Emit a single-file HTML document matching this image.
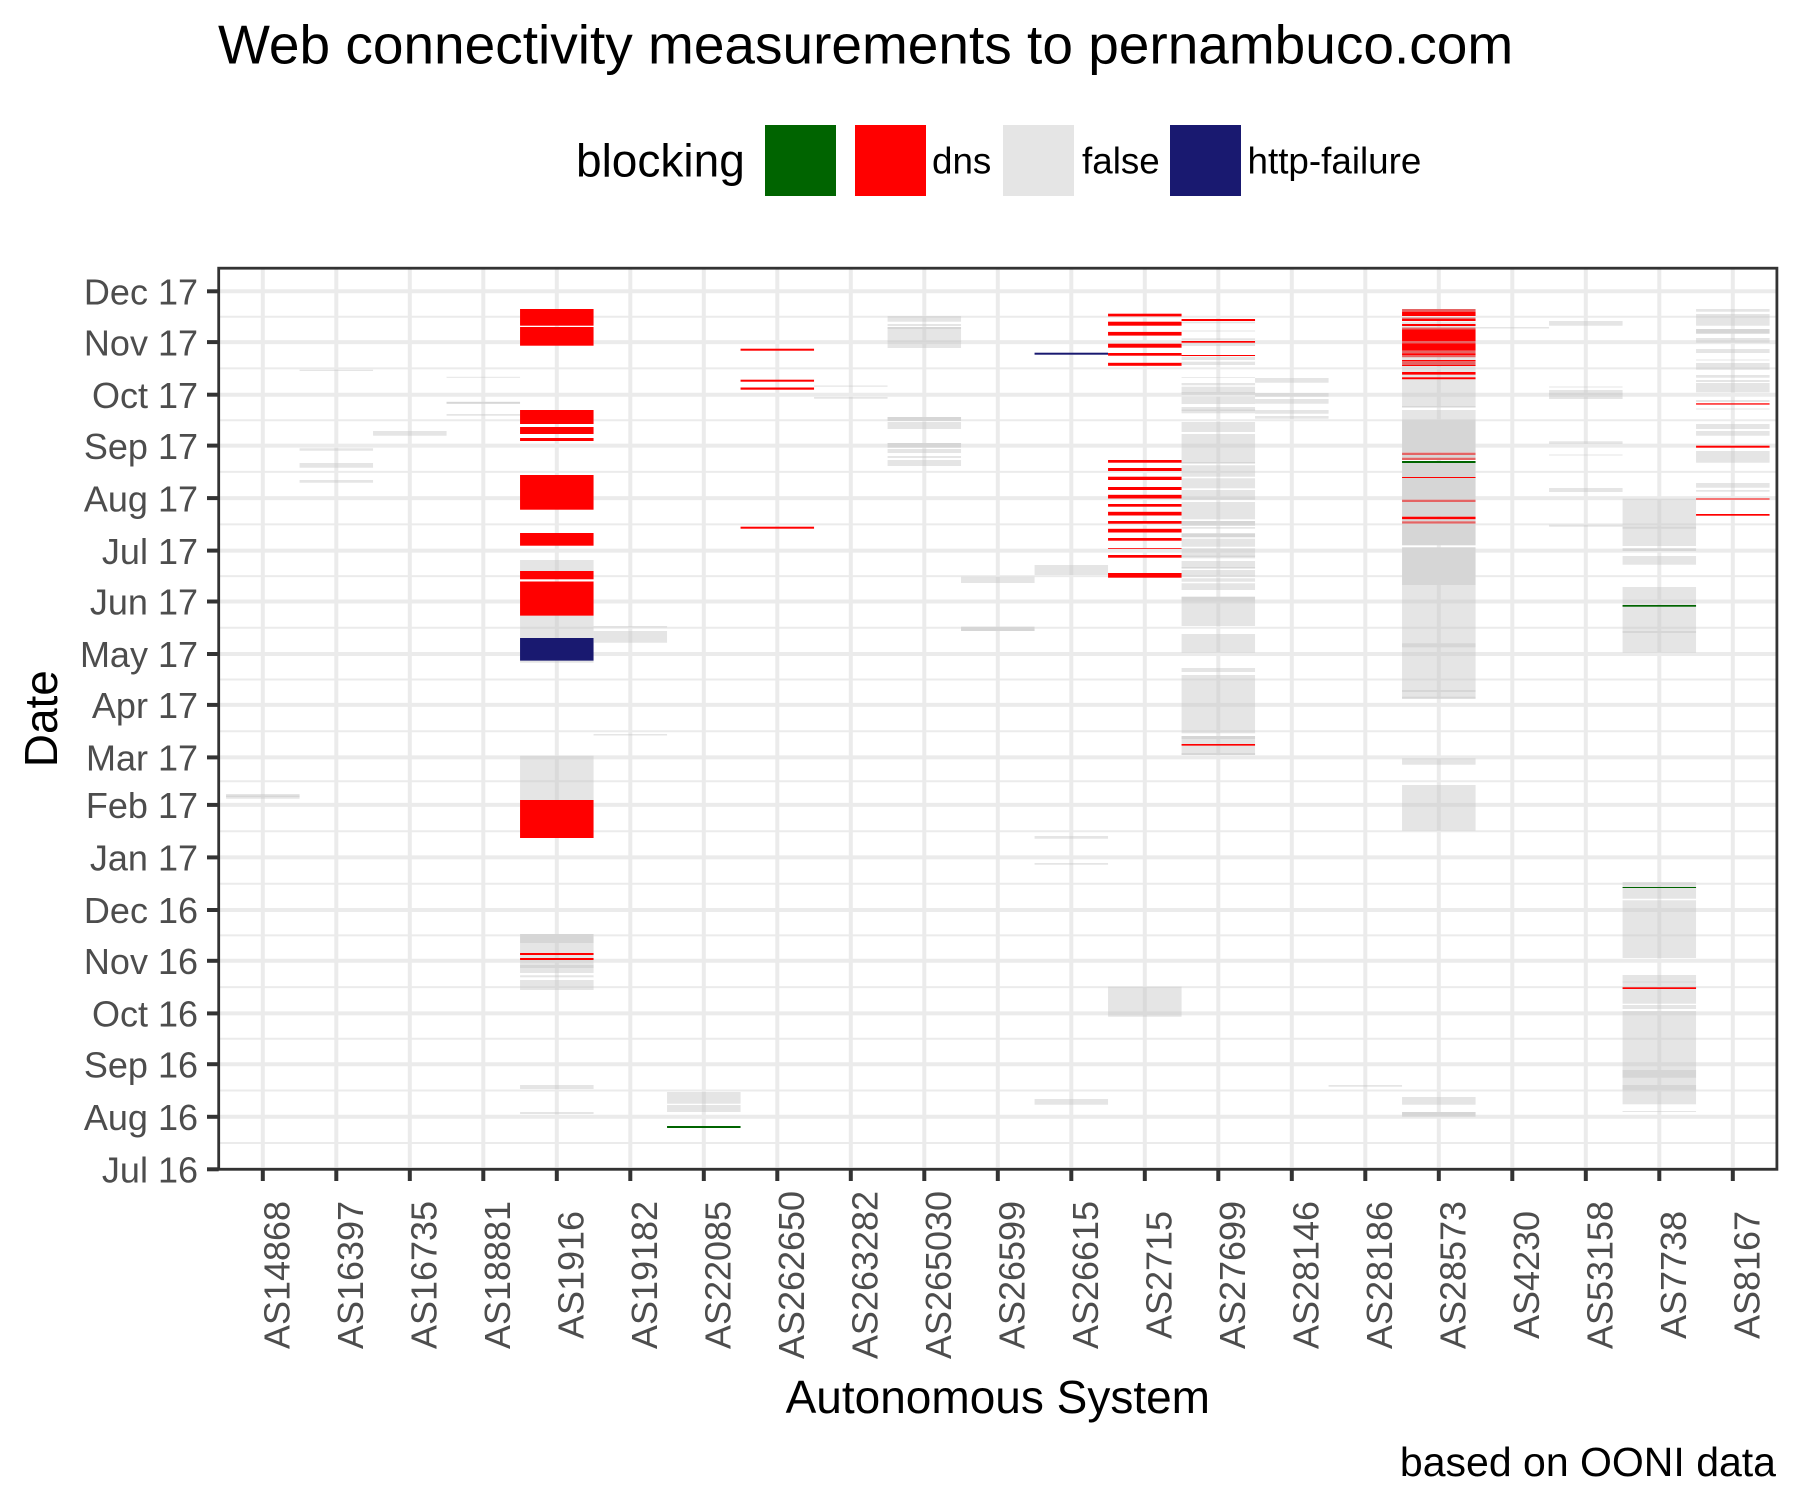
<!DOCTYPE html>
<html>
<head>
<meta charset="utf-8">
<style>
html,body{margin:0;padding:0;background:#fff;}
body{width:1800px;height:1500px;overflow:hidden;}
svg{display:block;font-family:"Liberation Sans",Arial,sans-serif;}
.g{fill:#c5c5c5;fill-opacity:0.45;}
.d{fill:#d6d6d6;}
.r{fill:#ff0000;}
.p{fill:#e46464;}
.n{fill:#191970;}
.k{fill:#006400;}
.gl{stroke:#ebebeb;stroke-width:4;}
.gm{stroke:#ebebeb;stroke-width:2;}
.tk{stroke:#333333;stroke-width:4;}
.yl{font-size:36px;fill:#4d4d4d;text-anchor:end;}
.xl{font-size:36px;fill:#4d4d4d;text-anchor:middle;}
</style>
</head>
<body>
<svg width="1800" height="1500" viewBox="0 0 1800 1500" xmlns="http://www.w3.org/2000/svg">
<rect x="0" y="0" width="1800" height="1500" fill="#fff"/>

<!-- Title -->
<text x="218" y="63.3" font-size="55" fill="#000">Web connectivity measurements to pernambuco.com</text>

<!-- Legend -->
<text x="576" y="176.5" font-size="46" fill="#000">blocking</text>
<rect x="765" y="125" width="71" height="71" fill="#006400"/>
<rect x="855" y="125" width="71" height="71" fill="#ff0000"/>
<rect x="1003" y="125" width="71" height="71" fill="#e5e5e5"/>
<rect x="1170" y="125" width="71" height="71" fill="#191970"/>
<text x="932" y="173.5" font-size="36.8" fill="#000">dns</text>
<text x="1082" y="173.5" font-size="36.8" fill="#000">false</text>
<text x="1247.5" y="173.5" font-size="36.8" fill="#000">http-failure</text>

<defs>
<clipPath id="pc"><rect x="218.7" y="268.2" width="1558.2" height="901.1"/></clipPath>
</defs>

<g clip-path="url(#pc)">
<!-- minor horizontal grid -->
<g class="gm">
<line x1="218" x2="1778" y1="1143.0" y2="1143.0"/>
<line x1="218" x2="1778" y1="1090.5" y2="1090.5"/>
<line x1="218" x2="1778" y1="1038.8" y2="1038.8"/>
<line x1="218" x2="1778" y1="987.1" y2="987.1"/>
<line x1="218" x2="1778" y1="935.4" y2="935.4"/>
<line x1="218" x2="1778" y1="883.7" y2="883.7"/>
<line x1="218" x2="1778" y1="831.2" y2="831.2"/>
<line x1="218" x2="1778" y1="781.2" y2="781.2"/>
<line x1="218" x2="1778" y1="731.2" y2="731.2"/>
<line x1="218" x2="1778" y1="679.5" y2="679.5"/>
<line x1="218" x2="1778" y1="627.8" y2="627.8"/>
<line x1="218" x2="1778" y1="576.1" y2="576.1"/>
<line x1="218" x2="1778" y1="524.4" y2="524.4"/>
<line x1="218" x2="1778" y1="471.9" y2="471.9"/>
<line x1="218" x2="1778" y1="420.2" y2="420.2"/>
<line x1="218" x2="1778" y1="368.4" y2="368.4"/>
<line x1="218" x2="1778" y1="316.7" y2="316.7"/>
</g>
<!-- major horizontal grid -->
<g class="gl">
<line x1="218" x2="1778" y1="1169.3" y2="1169.3"/>
<line x1="218" x2="1778" y1="1116.8" y2="1116.8"/>
<line x1="218" x2="1778" y1="1064.2" y2="1064.2"/>
<line x1="218" x2="1778" y1="1013.4" y2="1013.4"/>
<line x1="218" x2="1778" y1="960.8" y2="960.8"/>
<line x1="218" x2="1778" y1="910.0" y2="910.0"/>
<line x1="218" x2="1778" y1="857.4" y2="857.4"/>
<line x1="218" x2="1778" y1="804.9" y2="804.9"/>
<line x1="218" x2="1778" y1="757.4" y2="757.4"/>
<line x1="218" x2="1778" y1="704.9" y2="704.9"/>
<line x1="218" x2="1778" y1="654.0" y2="654.0"/>
<line x1="218" x2="1778" y1="601.5" y2="601.5"/>
<line x1="218" x2="1778" y1="550.6" y2="550.6"/>
<line x1="218" x2="1778" y1="498.1" y2="498.1"/>
<line x1="218" x2="1778" y1="445.6" y2="445.6"/>
<line x1="218" x2="1778" y1="394.7" y2="394.7"/>
<line x1="218" x2="1778" y1="342.1" y2="342.1"/>
<line x1="218" x2="1778" y1="291.3" y2="291.3"/>
</g>
<!-- vertical grid -->
<g class="gl">
<line y1="268" y2="1170" x1="262.8" x2="262.8"/>
<line y1="268" y2="1170" x1="336.3" x2="336.3"/>
<line y1="268" y2="1170" x1="409.8" x2="409.8"/>
<line y1="268" y2="1170" x1="483.3" x2="483.3"/>
<line y1="268" y2="1170" x1="556.8" x2="556.8"/>
<line y1="268" y2="1170" x1="630.3" x2="630.3"/>
<line y1="268" y2="1170" x1="703.8" x2="703.8"/>
<line y1="268" y2="1170" x1="777.3" x2="777.3"/>
<line y1="268" y2="1170" x1="850.8" x2="850.8"/>
<line y1="268" y2="1170" x1="924.3" x2="924.3"/>
<line y1="268" y2="1170" x1="997.8" x2="997.8"/>
<line y1="268" y2="1170" x1="1071.3" x2="1071.3"/>
<line y1="268" y2="1170" x1="1144.8" x2="1144.8"/>
<line y1="268" y2="1170" x1="1218.3" x2="1218.3"/>
<line y1="268" y2="1170" x1="1291.8" x2="1291.8"/>
<line y1="268" y2="1170" x1="1365.3" x2="1365.3"/>
<line y1="268" y2="1170" x1="1438.8" x2="1438.8"/>
<line y1="268" y2="1170" x1="1512.3" x2="1512.3"/>
<line y1="268" y2="1170" x1="1585.8" x2="1585.8"/>
<line y1="268" y2="1170" x1="1659.3" x2="1659.3"/>
<line y1="268" y2="1170" x1="1732.8" x2="1732.8"/>
</g>

<!-- Tiles -->
<!-- AS14868 -->
<g transform="translate(226.05,0)">
<rect class="g" x="0" width="73.5" y="794" height="4.7"/>
<rect class="d" x="0" width="73.5" y="795.5" height="1.5"/>
</g>
<!-- AS16397 -->
<g transform="translate(299.55,0)">
<rect class="g" x="0" width="73.5" y="369.7" height="1.3"/>
<rect class="g" x="0" width="73.5" y="448.3" height="2.4"/>
<rect class="g" x="0" width="73.5" y="463" height="4.7"/>
<rect class="g" x="0" width="73.5" y="480" height="2.7"/>
</g>
<!-- AS16735 -->
<g transform="translate(373.05,0)">
<rect class="g" x="0" width="73.5" y="431" height="4.7"/>
</g>
<!-- AS18881 -->
<g transform="translate(446.55,0)">
<rect class="g" x="0" width="73.5" y="376.8" height="1"/>
<rect class="d" x="0" width="73.5" y="401.8" height="2"/>
<rect class="g" x="0" width="73.5" y="414" height="1.7"/>
</g>
<!-- AS1916 -->
<g transform="translate(520.05,0)">
<rect class="r" x="0" width="73.5" y="309" height="16.7"/>
<rect class="r" x="0" width="73.5" y="327" height="18.7"/>
<rect class="r" x="0" width="73.5" y="410" height="14"/>
<rect class="r" x="0" width="73.5" y="427" height="7"/>
<rect class="r" x="0" width="73.5" y="438" height="3"/>
<rect class="r" x="0" width="73.5" y="475" height="34.7"/>
<rect class="r" x="0" width="73.5" y="533" height="12.7"/>
<rect class="g" x="0" width="73.5" y="560" height="11"/>
<rect class="r" x="0" width="73.5" y="571" height="8.3"/>
<rect class="r" x="0" width="73.5" y="581.5" height="34.2"/>
<rect class="g" x="0" width="73.5" y="615.7" height="22.3"/>
<rect class="n" x="0" width="73.5" y="638" height="22.7"/>
<rect class="g" x="0" width="73.5" y="660.7" height="2"/>
<rect class="g" x="0" width="73.5" y="755.7" height="44.3"/>
<rect class="r" x="0" width="73.5" y="800" height="38"/>
<rect class="d" x="0" width="73.5" y="934" height="9"/>
<rect class="g" x="0" width="73.5" y="943" height="10"/>
<rect class="r" x="0" width="73.5" y="953" height="2"/>
<rect class="g" x="0" width="73.5" y="955" height="3"/>
<rect class="r" x="0" width="73.5" y="958" height="2"/>
<rect class="g" x="0" width="73.5" y="960" height="13"/>
<rect class="d" x="0" width="73.5" y="965" height="3"/>
<rect class="g" x="0" width="73.5" y="975.3" height="2"/>
<rect class="g" x="0" width="73.5" y="980" height="10"/>
<rect class="g" x="0" width="73.5" y="1085" height="4"/>
<rect class="g" x="0" width="73.5" y="1112" height="2"/>
</g>
<!-- AS19182 -->
<g transform="translate(593.55,0)">
<rect class="g" x="0" width="73.5" y="626" height="1.5"/>
<rect class="g" x="0" width="73.5" y="631" height="11.7"/>
<rect class="g" x="0" width="73.5" y="734" height="1.5"/>
</g>
<!-- AS22085 -->
<g transform="translate(667.05,0)">
<rect class="g" x="0" width="73.5" y="1092" height="11.7"/>
<rect class="g" x="0" width="73.5" y="1105" height="7"/>
<rect class="k" x="0" width="73.5" y="1126" height="2"/>
</g>
<!-- AS262650 -->
<g transform="translate(740.55,0)">
<rect class="r" x="0" width="73.5" y="348.7" height="2"/>
<rect class="r" x="0" width="73.5" y="379.7" height="2"/>
<rect class="r" x="0" width="73.5" y="387.5" height="2.2"/>
<rect class="r" x="0" width="73.5" y="526.7" height="2"/>
</g>
<!-- AS263282 -->
<g transform="translate(814.05,0)">
<rect class="g" x="0" width="73.5" y="385.5" height="1.2"/>
<rect class="g" x="0" width="73.5" y="397" height="1.7"/>
</g>
<!-- AS265030 -->
<g transform="translate(887.55,0)">
<rect class="g" x="0" width="73.5" y="316" height="5.7"/>
<rect class="g" x="0" width="73.5" y="324" height="2"/>
<rect class="d" x="0" width="73.5" y="327" height="2"/>
<rect class="g" x="0" width="73.5" y="329" height="13.7"/>
<rect class="d" x="0" width="73.5" y="340.5" height="1.5"/>
<rect class="g" x="0" width="73.5" y="342.7" height="5.3"/>
<rect class="d" x="0" width="73.5" y="417" height="4"/>
<rect class="g" x="0" width="73.5" y="422" height="7"/>
<rect class="d" x="0" width="73.5" y="443" height="4.7"/>
<rect class="g" x="0" width="73.5" y="449" height="4"/>
<rect class="g" x="0" width="73.5" y="456" height="2"/>
<rect class="g" x="0" width="73.5" y="460" height="6"/>
</g>
<!-- AS26599 -->
<g transform="translate(961.05,0)">
<rect class="g" x="0" width="73.5" y="576.7" height="6.3"/>
<rect class="d" x="0" width="73.5" y="626.7" height="4.3"/>
</g>
<!-- AS26615 -->
<g transform="translate(1034.55,0)">
<rect class="n" x="0" width="73.5" y="352.7" height="2"/>
<rect class="g" x="0" width="73.5" y="565" height="10"/>
<rect class="g" x="0" width="73.5" y="836" height="2.7"/>
<rect class="g" x="0" width="73.5" y="863" height="1.7"/>
<rect class="g" x="0" width="73.5" y="1099" height="5.7"/>
</g>
<!-- AS2715 -->
<g transform="translate(1108.05,0)">
<rect class="r" x="0" width="73.5" y="313.7" height="2.7"/>
<rect class="r" x="0" width="73.5" y="321.7" height="4"/>
<rect class="r" x="0" width="73.5" y="331.9" height="3.7"/>
<rect class="r" x="0" width="73.5" y="343.7" height="4"/>
<rect class="r" x="0" width="73.5" y="353" height="2.7"/>
<rect class="r" x="0" width="73.5" y="362.8" height="3"/>
<rect class="r" x="0" width="73.5" y="460" height="2.7"/>
<rect class="r" x="0" width="73.5" y="468" height="3"/>
<rect class="r" x="0" width="73.5" y="476.7" height="3.3"/>
<rect class="r" x="0" width="73.5" y="487" height="3"/>
<rect class="r" x="0" width="73.5" y="494.8" height="3.7"/>
<rect class="r" x="0" width="73.5" y="504" height="2.7"/>
<rect class="r" x="0" width="73.5" y="511.8" height="3.7"/>
<rect class="r" x="0" width="73.5" y="521" height="2.7"/>
<rect class="r" x="0" width="73.5" y="528.8" height="3.7"/>
<rect class="r" x="0" width="73.5" y="538" height="2.7"/>
<rect class="r" x="0" width="73.5" y="548" height="0.8"/>
<rect class="r" x="0" width="73.5" y="555" height="2.7"/>
<rect class="r" x="0" width="73.5" y="573" height="4.7"/>
<rect class="g" x="0" width="73.5" y="986.7" height="30"/>
</g>
<!-- AS27699 -->
<g transform="translate(1181.55,0)">
<rect class="r" x="0" width="73.5" y="319" height="2"/>
<rect class="g" x="0" width="73.5" y="321.7" height="1.6"/>
<rect class="g" x="0" width="73.5" y="330.5" height="1"/>
<rect class="g" x="0" width="73.5" y="338.3" height="1.7"/>
<rect class="r" x="0" width="73.5" y="341" height="1.7"/>
<rect class="g" x="0" width="73.5" y="343.3" height="2.7"/>
<rect class="r" x="0" width="73.5" y="355" height="1"/>
<rect class="g" x="0" width="73.5" y="356.7" height="3.3"/>
<rect class="g" x="0" width="73.5" y="361.7" height="3.3"/>
<rect class="g" x="0" width="73.5" y="377" height="0.8"/>
<rect class="g" x="0" width="73.5" y="383" height="2.3"/>
<rect class="g" x="0" width="73.5" y="386.7" height="8.3"/>
<rect class="d" x="0" width="73.5" y="392" height="1.5"/>
<rect class="g" x="0" width="73.5" y="396.7" height="7.3"/>
<rect class="g" x="0" width="73.5" y="407" height="6.3"/>
<rect class="d" x="0" width="73.5" y="409.5" height="1.5"/>
<rect class="g" x="0" width="73.5" y="422" height="10"/>
<rect class="g" x="0" width="73.5" y="434" height="29.3"/>
<rect class="d" x="0" width="73.5" y="462" height="1.5"/>
<rect class="g" x="0" width="73.5" y="465.3" height="11.4"/>
<rect class="g" x="0" width="73.5" y="478.3" height="10"/>
<rect class="g" x="0" width="73.5" y="490" height="10"/>
<rect class="d" x="0" width="73.5" y="497.5" height="1.5"/>
<rect class="g" x="0" width="73.5" y="502" height="17.3"/>
<rect class="d" x="0" width="73.5" y="521" height="4.7"/>
<rect class="g" x="0" width="73.5" y="527" height="1.7"/>
<rect class="d" x="0" width="73.5" y="533.3" height="4"/>
<rect class="g" x="0" width="73.5" y="538.7" height="8"/>
<rect class="g" x="0" width="73.5" y="548.3" height="10"/>
<rect class="d" x="0" width="73.5" y="555.5" height="1.5"/>
<rect class="g" x="0" width="73.5" y="561" height="7.3"/>
<rect class="d" x="0" width="73.5" y="567" height="1.5"/>
<rect class="g" x="0" width="73.5" y="570" height="6.7"/>
<rect class="g" x="0" width="73.5" y="578.3" height="3.4"/>
<rect class="g" x="0" width="73.5" y="583.3" height="6.7"/>
<rect class="d" x="0" width="73.5" y="596.7" height="5"/>
<rect class="g" x="0" width="73.5" y="601.7" height="24.3"/>
<rect class="g" x="0" width="73.5" y="634" height="18.7"/>
<rect class="g" x="0" width="73.5" y="668" height="4"/>
<rect class="g" x="0" width="73.5" y="675" height="58.3"/>
<rect class="d" x="0" width="73.5" y="736" height="3"/>
<rect class="g" x="0" width="73.5" y="739" height="5"/>
<rect class="r" x="0" width="73.5" y="744" height="1.7"/>
<rect class="g" x="0" width="73.5" y="745.7" height="9.3"/>
<rect class="d" x="0" width="73.5" y="753" height="2"/>
</g>
<!-- AS28146 -->
<g transform="translate(1255.05,0)">
<rect class="g" x="0" width="73.5" y="378" height="4.7"/>
<rect class="g" x="0" width="73.5" y="393" height="3.7"/>
<rect class="g" x="0" width="73.5" y="399" height="4.7"/>
<rect class="g" x="0" width="73.5" y="410" height="3.7"/>
<rect class="g" x="0" width="73.5" y="416" height="2.7"/>
</g>
<!-- AS28186 -->
<g transform="translate(1328.55,0)">
<rect class="g" x="0" width="73.5" y="1085" height="1.7"/>
</g>
<!-- AS28573 -->
<g transform="translate(1402.05,0)">
<rect class="p" x="0" width="73.5" y="309" height="2.7"/>
<rect class="r" x="0" width="73.5" y="311.7" height="4.3"/>
<rect class="p" x="0" width="73.5" y="317.5" height="1.5"/>
<rect class="r" x="0" width="73.5" y="319" height="2"/>
<rect class="g" x="0" width="73.5" y="321.7" height="2.3"/>
<rect class="r" x="0" width="73.5" y="324" height="2"/>
<rect class="g" x="0" width="73.5" y="326" height="1.5"/>
<rect class="p" x="0" width="73.5" y="327.5" height="1.8"/>
<rect class="r" x="0" width="73.5" y="329.3" height="12"/>
<rect class="p" x="0" width="73.5" y="341.3" height="2"/>
<rect class="r" x="0" width="73.5" y="343.3" height="7.4"/>
<rect class="p" x="0" width="73.5" y="350.7" height="2.6"/>
<rect class="r" x="0" width="73.5" y="353.3" height="2"/>
<rect class="p" x="0" width="73.5" y="355.3" height="2"/>
<rect class="g" x="0" width="73.5" y="357.3" height="2.7"/>
<rect class="r" x="0" width="73.5" y="360" height="1.3"/>
<rect class="p" x="0" width="73.5" y="361.3" height="3.7"/>
<rect class="r" x="0" width="73.5" y="365" height="1"/>
<rect class="g" x="0" width="73.5" y="366" height="6"/>
<rect class="r" x="0" width="73.5" y="372" height="2.7"/>
<rect class="g" x="0" width="73.5" y="374.7" height="2.6"/>
<rect class="r" x="0" width="73.5" y="377.3" height="2"/>
<rect class="g" x="0" width="73.5" y="379.3" height="28"/>
<rect class="d" x="0" width="73.5" y="406" height="1.5"/>
<rect class="g" x="0" width="73.5" y="410" height="10"/>
<rect class="d" x="0" width="73.5" y="420" height="32.7"/>
<rect class="p" x="0" width="73.5" y="452.7" height="2.3"/>
<rect class="d" x="0" width="73.5" y="455" height="2.7"/>
<rect class="p" x="0" width="73.5" y="457.7" height="2.3"/>
<rect class="k" x="0" width="73.5" y="461" height="2"/>
<rect class="d" x="0" width="73.5" y="463" height="14"/>
<rect class="r" x="0" width="73.5" y="477" height="1"/>
<rect class="d" x="0" width="73.5" y="478" height="21.7"/>
<rect class="p" x="0" width="73.5" y="499.7" height="2.3"/>
<rect class="d" x="0" width="73.5" y="502" height="14.7"/>
<rect class="r" x="0" width="73.5" y="516.7" height="2.6"/>
<rect class="d" x="0" width="73.5" y="519.3" height="2"/>
<rect class="p" x="0" width="73.5" y="521.3" height="2.4"/>
<rect class="d" x="0" width="73.5" y="523.7" height="21.6"/>
<rect class="d" x="0" width="73.5" y="547.3" height="37.7"/>
<rect class="g" x="0" width="73.5" y="585" height="113.7"/>
<rect class="d" x="0" width="73.5" y="643.3" height="4"/>
<rect class="d" x="0" width="73.5" y="690" height="2"/>
<rect class="d" x="0" width="73.5" y="696.7" height="2"/>
<rect class="g" x="0" width="73.5" y="758.3" height="6.4"/>
<rect class="g" x="0" width="73.5" y="785" height="45.7"/>
<rect class="g" x="0" width="73.5" y="1097" height="7.7"/>
<rect class="d" x="0" width="73.5" y="1112" height="4.7"/>
</g>
<!-- AS4230 -->
<g transform="translate(1475.55,0)">
<rect class="g" x="0" width="73.5" y="327" height="1.5"/>
</g>
<!-- AS53158 -->
<g transform="translate(1549.05,0)">
<rect class="g" x="0" width="73.5" y="321" height="4.7"/>
<rect class="g" x="0" width="73.5" y="386.5" height="1"/>
<rect class="g" x="0" width="73.5" y="390" height="9"/>
<rect class="d" x="0" width="73.5" y="393" height="2"/>
<rect class="g" x="0" width="73.5" y="441.3" height="2.7"/>
<rect class="g" x="0" width="73.5" y="454.5" height="1"/>
<rect class="g" x="0" width="73.5" y="488" height="4"/>
<rect class="g" x="0" width="73.5" y="524.7" height="2"/>
</g>
<!-- AS7738 -->
<g transform="translate(1622.55,0)">
<rect class="g" x="0" width="73.5" y="498.7" height="47.3"/>
<rect class="d" x="0" width="73.5" y="526.7" height="2"/>
<rect class="d" x="0" width="73.5" y="548.3" height="2.7"/>
<rect class="g" x="0" width="73.5" y="556" height="8.7"/>
<rect class="g" x="0" width="73.5" y="587" height="65.7"/>
<rect class="k" x="0" width="73.5" y="605" height="1.7"/>
<rect class="d" x="0" width="73.5" y="631" height="2"/>
<rect class="g" x="0" width="73.5" y="882" height="16.7"/>
<rect class="k" x="0" width="73.5" y="887" height="1"/>
<rect class="g" x="0" width="73.5" y="900.3" height="57.7"/>
<rect class="g" x="0" width="73.5" y="975" height="28.7"/>
<rect class="d" x="0" width="73.5" y="981.5" height="1"/>
<rect class="r" x="0" width="73.5" y="987.3" height="1.7"/>
<rect class="g" x="0" width="73.5" y="1005" height="4"/>
<rect class="g" x="0" width="73.5" y="1011" height="93.3"/>
<rect class="d" x="0" width="73.5" y="1070" height="7.7"/>
<rect class="d" x="0" width="73.5" y="1085" height="5"/>
<rect class="g" x="0" width="73.5" y="1111" height="1"/>
</g>
<!-- AS8167 -->
<g transform="translate(1696.05,0)">
<rect class="g" x="0" width="73.5" y="309" height="2.7"/>
<rect class="g" x="0" width="73.5" y="314" height="11.7"/>
<rect class="d" x="0" width="73.5" y="329" height="4.7"/>
<rect class="g" x="0" width="73.5" y="338" height="4.7"/>
<rect class="g" x="0" width="73.5" y="349" height="4"/>
<rect class="g" x="0" width="73.5" y="359.5" height="1"/>
<rect class="g" x="0" width="73.5" y="363" height="6.7"/>
<rect class="g" x="0" width="73.5" y="375" height="2.7"/>
<rect class="g" x="0" width="73.5" y="380" height="2"/>
<rect class="g" x="0" width="73.5" y="383" height="9.3"/>
<rect class="g" x="0" width="73.5" y="400" height="2"/>
<rect class="r" x="0" width="73.5" y="403.3" height="1.3"/>
<rect class="g" x="0" width="73.5" y="408.5" height="1"/>
<rect class="g" x="0" width="73.5" y="424" height="5"/>
<rect class="g" x="0" width="73.5" y="431" height="4.7"/>
<rect class="r" x="0" width="73.5" y="445.7" height="2"/>
<rect class="g" x="0" width="73.5" y="451" height="11.7"/>
<rect class="g" x="0" width="73.5" y="483" height="4.7"/>
<rect class="g" x="0" width="73.5" y="490" height="1.7"/>
<rect class="r" x="0" width="73.5" y="498.5" height="1"/>
<rect class="r" x="0" width="73.5" y="514" height="1.7"/>
</g>
</g>

<!-- Panel border -->
<rect x="218.7" y="268.2" width="1558.2" height="901.1" fill="none" stroke="#333333" stroke-width="2.8"/>

<!-- Y ticks -->
<g class="tk">
<line x1="207" x2="218.7" y1="1169.3" y2="1169.3"/>
<line x1="207" x2="218.7" y1="1116.8" y2="1116.8"/>
<line x1="207" x2="218.7" y1="1064.2" y2="1064.2"/>
<line x1="207" x2="218.7" y1="1013.4" y2="1013.4"/>
<line x1="207" x2="218.7" y1="960.8" y2="960.8"/>
<line x1="207" x2="218.7" y1="910.0" y2="910.0"/>
<line x1="207" x2="218.7" y1="857.4" y2="857.4"/>
<line x1="207" x2="218.7" y1="804.9" y2="804.9"/>
<line x1="207" x2="218.7" y1="757.4" y2="757.4"/>
<line x1="207" x2="218.7" y1="704.9" y2="704.9"/>
<line x1="207" x2="218.7" y1="654.0" y2="654.0"/>
<line x1="207" x2="218.7" y1="601.5" y2="601.5"/>
<line x1="207" x2="218.7" y1="550.6" y2="550.6"/>
<line x1="207" x2="218.7" y1="498.1" y2="498.1"/>
<line x1="207" x2="218.7" y1="445.6" y2="445.6"/>
<line x1="207" x2="218.7" y1="394.7" y2="394.7"/>
<line x1="207" x2="218.7" y1="342.1" y2="342.1"/>
<line x1="207" x2="218.7" y1="291.3" y2="291.3"/>
</g>
<!-- Y labels -->
<g class="yl">
<text x="198" y="1182.5">Jul 16</text>
<text x="198" y="1130.0">Aug 16</text>
<text x="198" y="1077.4">Sep 16</text>
<text x="198" y="1026.6">Oct 16</text>
<text x="198" y="974.0">Nov 16</text>
<text x="198" y="923.2">Dec 16</text>
<text x="198" y="870.6">Jan 17</text>
<text x="198" y="818.1">Feb 17</text>
<text x="198" y="770.6">Mar 17</text>
<text x="198" y="718.1">Apr 17</text>
<text x="198" y="667.2">May 17</text>
<text x="198" y="614.7">Jun 17</text>
<text x="198" y="563.8">Jul 17</text>
<text x="198" y="511.3">Aug 17</text>
<text x="198" y="458.8">Sep 17</text>
<text x="198" y="407.9">Oct 17</text>
<text x="198" y="355.3">Nov 17</text>
<text x="198" y="304.5">Dec 17</text>
</g>

<!-- X ticks -->
<g class="tk">
<line y1="1169.3" y2="1181" x1="262.8" x2="262.8"/>
<line y1="1169.3" y2="1181" x1="336.3" x2="336.3"/>
<line y1="1169.3" y2="1181" x1="409.8" x2="409.8"/>
<line y1="1169.3" y2="1181" x1="483.3" x2="483.3"/>
<line y1="1169.3" y2="1181" x1="556.8" x2="556.8"/>
<line y1="1169.3" y2="1181" x1="630.3" x2="630.3"/>
<line y1="1169.3" y2="1181" x1="703.8" x2="703.8"/>
<line y1="1169.3" y2="1181" x1="777.3" x2="777.3"/>
<line y1="1169.3" y2="1181" x1="850.8" x2="850.8"/>
<line y1="1169.3" y2="1181" x1="924.3" x2="924.3"/>
<line y1="1169.3" y2="1181" x1="997.8" x2="997.8"/>
<line y1="1169.3" y2="1181" x1="1071.3" x2="1071.3"/>
<line y1="1169.3" y2="1181" x1="1144.8" x2="1144.8"/>
<line y1="1169.3" y2="1181" x1="1218.3" x2="1218.3"/>
<line y1="1169.3" y2="1181" x1="1291.8" x2="1291.8"/>
<line y1="1169.3" y2="1181" x1="1365.3" x2="1365.3"/>
<line y1="1169.3" y2="1181" x1="1438.8" x2="1438.8"/>
<line y1="1169.3" y2="1181" x1="1512.3" x2="1512.3"/>
<line y1="1169.3" y2="1181" x1="1585.8" x2="1585.8"/>
<line y1="1169.3" y2="1181" x1="1659.3" x2="1659.3"/>
<line y1="1169.3" y2="1181" x1="1732.8" x2="1732.8"/>
</g>
<!-- X labels -->
<g class="xl">
<text transform="translate(289.3,1275) rotate(-90)">AS14868</text>
<text transform="translate(362.8,1275) rotate(-90)">AS16397</text>
<text transform="translate(436.3,1275) rotate(-90)">AS16735</text>
<text transform="translate(509.8,1275) rotate(-90)">AS18881</text>
<text transform="translate(583.3,1275) rotate(-90)">AS1916</text>
<text transform="translate(656.8,1275) rotate(-90)">AS19182</text>
<text transform="translate(730.3,1275) rotate(-90)">AS22085</text>
<text transform="translate(803.8,1275) rotate(-90)">AS262650</text>
<text transform="translate(877.3,1275) rotate(-90)">AS263282</text>
<text transform="translate(950.8,1275) rotate(-90)">AS265030</text>
<text transform="translate(1024.3,1275) rotate(-90)">AS26599</text>
<text transform="translate(1097.8,1275) rotate(-90)">AS26615</text>
<text transform="translate(1171.3,1275) rotate(-90)">AS2715</text>
<text transform="translate(1244.8,1275) rotate(-90)">AS27699</text>
<text transform="translate(1318.3,1275) rotate(-90)">AS28146</text>
<text transform="translate(1391.8,1275) rotate(-90)">AS28186</text>
<text transform="translate(1465.3,1275) rotate(-90)">AS28573</text>
<text transform="translate(1538.8,1275) rotate(-90)">AS4230</text>
<text transform="translate(1612.3,1275) rotate(-90)">AS53158</text>
<text transform="translate(1685.8,1275) rotate(-90)">AS7738</text>
<text transform="translate(1759.3,1275) rotate(-90)">AS8167</text>
</g>

<!-- Axis titles -->
<text x="997.8" y="1413" font-size="46" fill="#000" text-anchor="middle">Autonomous System</text>
<text transform="translate(57,718.7) rotate(-90)" font-size="46" fill="#000" text-anchor="middle">Date</text>

<!-- Caption -->
<text x="1776" y="1476" font-size="41" fill="#000" text-anchor="end">based on OONI data</text>
</svg>
</body>
</html>
